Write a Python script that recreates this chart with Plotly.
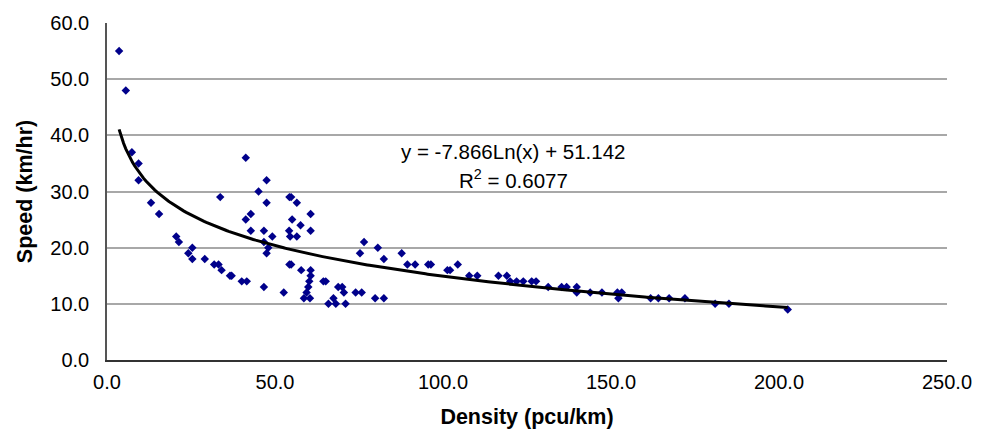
import numpy as np
import plotly.graph_objects as go

# Observed density (pcu/km) and speed (km/hr)
density = [3.6, 5.6, 7.4, 9.4, 9.4, 13.1, 15.5, 20.6, 21.4, 24.2, 25.4, 25.4, 29.1,
           31.9, 33.2, 33.7, 34.1, 36.6, 37.1, 40.1, 41.3, 41.3, 41.6, 42.8, 42.8,
           45.1, 46.7, 46.7, 46.7, 47.5, 47.5, 47.5, 48.0, 49.2, 52.6, 54.2, 54.3,
           54.3, 54.5, 54.8, 54.8, 55.1, 56.5, 56.5, 57.6, 57.8, 58.6, 59.4, 59.9,
           60.2, 60.4, 60.6, 60.6, 60.6, 60.6, 64.4, 65.1, 65.9, 67.4, 68.1, 68.8,
           70.0, 70.5, 71.0, 74.0, 75.3, 75.8, 76.5, 79.8, 80.6, 82.4, 82.4, 87.7,
           89.4, 91.7, 95.6, 96.4, 101.3, 102.1, 104.4, 107.8, 110.2, 116.5, 119.0,
           120.0, 121.9, 123.9, 126.4, 127.7, 131.3, 135.3, 136.8, 139.8, 139.8,
           143.8, 147.3, 151.9, 153.2, 152.2, 161.8, 164.1, 167.3, 172.0, 181.0,
           185.1, 202.6]
speed = [55, 48, 37, 35, 32, 28, 26, 22, 21, 19, 20, 18, 18,
         17, 17, 29, 16, 15, 15, 14, 36, 25, 14, 26, 23,
         30, 23, 21, 13, 32, 28, 19, 20, 22, 12, 23, 29,
         17, 22, 29, 17, 25, 28, 22, 24, 16, 11, 12, 13,
         14, 11, 26, 23, 16, 15, 14, 14, 10, 11, 10, 13,
         13, 12, 10, 12, 19, 12, 21, 11, 20, 18, 11, 19,
         17, 17, 17, 17, 16, 16, 17, 15, 15, 15, 15,
         14, 14, 14, 14, 14, 13, 13, 13, 13, 12,
         12, 12, 12, 12, 11, 11, 11, 11, 11, 10,
         10, 9]

# Logarithmic trendline coefficients
trend_a = -7.866
trend_b = 51.142
r_squared = 0.6077

x_ticks = [0, 50, 100, 150, 200, 250]
y_ticks = [0, 10, 20, 30, 40, 50, 60]

tx = np.linspace(min(density), max(density), 300)
ty = trend_a * np.log(tx) + trend_b

fig = go.Figure()
fig.add_trace(go.Scatter(x=density, y=speed, mode="markers",
                         marker=dict(symbol="diamond", size=6.5, color="#00008B",
                                     line=dict(width=0)),
                         showlegend=False))
fig.add_trace(go.Scatter(x=tx, y=ty, mode="lines",
                         line=dict(color="black", width=3), showlegend=False))

font_family = "Liberation Sans, Arial, sans-serif"
fig.add_annotation(x=121.0, y=37.2, xref="x", yref="y", showarrow=False,
                   text=f"y = {trend_a:.3f}Ln(x) + {trend_b:.3f}",
                   font=dict(family=font_family, size=20.5, color="black"))
fig.add_annotation(x=121.0, y=32.2, xref="x", yref="y", showarrow=False,
                   text=f"R<sup>2</sup> = {r_squared:.4f}",
                   font=dict(family=font_family, size=20.5, color="black"))

# page body adds an 8px offset; margins compensate so the plot area sits at 107..947 x 23..360
fig.update_layout(
    width=978, height=425,
    margin=dict(l=99, r=39, t=15, b=73, pad=0, autoexpand=False),
    paper_bgcolor="white", plot_bgcolor="white",
    font=dict(family=font_family, size=20, color="black"),
)
fig.update_xaxes(range=[0, 250], tickvals=x_ticks,
                 ticktext=[f"{v:.1f}" for v in x_ticks],
                 showgrid=False, zeroline=False, automargin=False,
                 showline=True, linecolor="#333333", linewidth=1.5,
                 ticks="", ticklabelstandoff=3,
                 title=dict(text="<b>Density (pcu/km)</b>", standoff=17,
                            font=dict(size=21.5)))
fig.update_yaxes(range=[0, 60], tickvals=y_ticks,
                 ticktext=[f"{v:.1f}" for v in y_ticks],
                 showgrid=True, gridcolor="#a8a8a8", gridwidth=1.5,
                 zeroline=False, automargin=False,
                 showline=True, linecolor="#555555", linewidth=1.5,
                 ticks="", ticklabelstandoff=12,
                 title=dict(text="<b>Speed (km/hr)</b>", standoff=12,
                            font=dict(size=21.5)))

fig.write_html("out.html")
